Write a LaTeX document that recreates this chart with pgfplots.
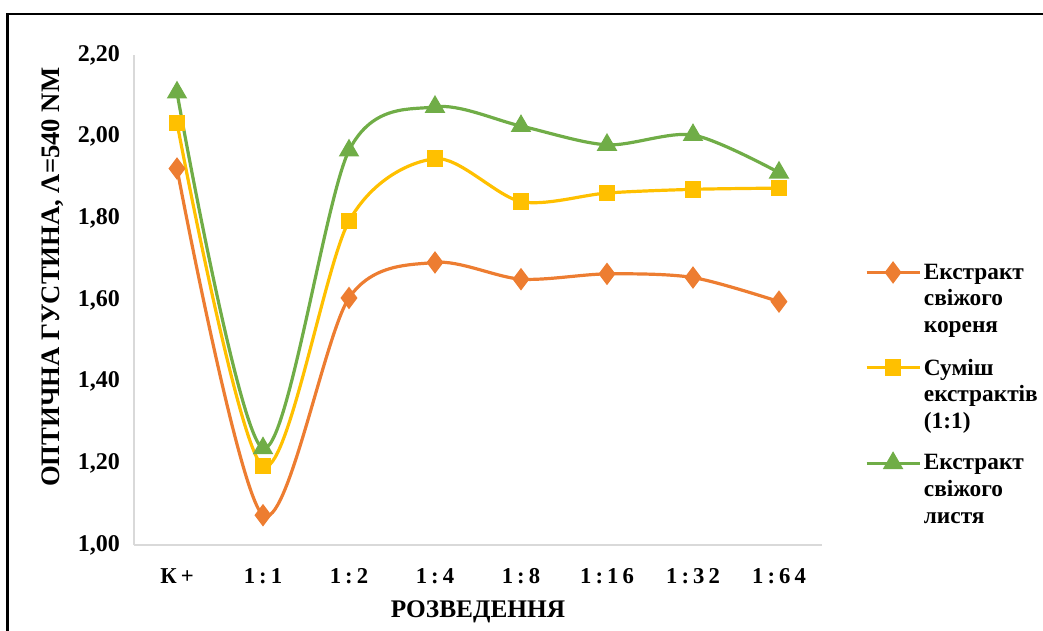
\documentclass[border=0pt]{standalone}
\usepackage{fontspec}
\setmainfont{Liberation Serif}
\usepackage{pgfplots}
\pgfplotsset{compat=1.18}
\definecolor{cOr}{HTML}{ED7D31}
\definecolor{cYe}{HTML}{FFC000}
\definecolor{cGr}{HTML}{70AD47}
\definecolor{cAx}{HTML}{D9D9D9}
\begin{document}
\begin{tikzpicture}
\useasboundingbox (0,0) rectangle (782.25pt,-473.25pt);
\draw[line width=1.9pt] (5.6pt,-473.25pt) -- (5.6pt,-10.5pt) -- (782.25pt,-10.5pt);
\begin{axis}[
  scale only axis,
  width=516pt, height=367.5pt,
  at={(100.5pt,-408.75pt)}, anchor=south west,
  xmin=-0.5, xmax=7.5, ymin=1, ymax=2.2,
  xtick={0,...,7},
  xticklabels={К+,1:1,1:2,1:4,1:8,1:16,1:32,1:64},
  xticklabel style={font=\bfseries\fontsize{17}{20}\selectfont\addfontfeature{LetterSpace=18}, yshift=-14pt},
  ytick={1,1.2,...,2.21},
  yticklabel style={font=\bfseries\fontsize{18}{20}\selectfont, xshift=-7pt},
  /pgf/number format/assume math mode=true,
  /pgf/number format/.cd, fixed, fixed zerofill, precision=2, use comma,
  /pgfplots/.cd,
  axis x line*=bottom, axis y line*=left,
  axis line style={cAx, line width=1pt},
  x axis line style={-}, y axis line style={-},
  major tick length=0pt,
  xlabel={РОЗВЕДЕННЯ},
  xlabel style={font=\bfseries\fontsize{19}{22}\selectfont, yshift=-6pt},
  ylabel={ОПТИЧНА ГУСТИНА, Λ=540 NM},
  ylabel style={font=\bfseries\fontsize{20}{22}\selectfont, yshift=4pt, xshift=17pt},
  every axis plot/.append style={line width=2.4pt, smooth},
  legend style={draw=none, fill=none, at={(1.062,0.58)}, anchor=north west,
    font=\bfseries\fontsize{17.5}{20}\selectfont, cells={align=left, anchor=north west},
    row sep=14pt, inner sep=0pt},
  legend image code/.code={\draw[mark repeat=2,mark phase=2,#1] plot coordinates {(0cm,-0.3cm)(0.7cm,-0.3cm)(1.4cm,-0.3cm)};},
  clip=false,
]
\addplot[cOr, mark=diamond*, mark size=6.5pt, mark options={solid}] coordinates {
(0,1.922)(1,1.073)(2,1.605)(3,1.692)(4,1.651)(5,1.664)(6,1.655)(7,1.596)};
\addlegendentry{Екстракт\\свіжого\\кореня}
\addplot[cYe, mark=square*, mark size=5pt] coordinates {
(0,2.034)(1,1.193)(2,1.793)(3,1.946)(4,1.841)(5,1.862)(6,1.871)(7,1.874)};
\addlegendentry{Суміш\\екстрактів\\(1:1)}
\addplot[cGr, mark=triangle*, mark size=6.5pt] coordinates {
(0,2.108)(1,1.237)(2,1.966)(3,2.073)(4,2.026)(5,1.980)(6,2.004)(7,1.912)};
\addlegendentry{Екстракт\\свіжого\\листя}
\end{axis}
\end{tikzpicture}
\end{document}
